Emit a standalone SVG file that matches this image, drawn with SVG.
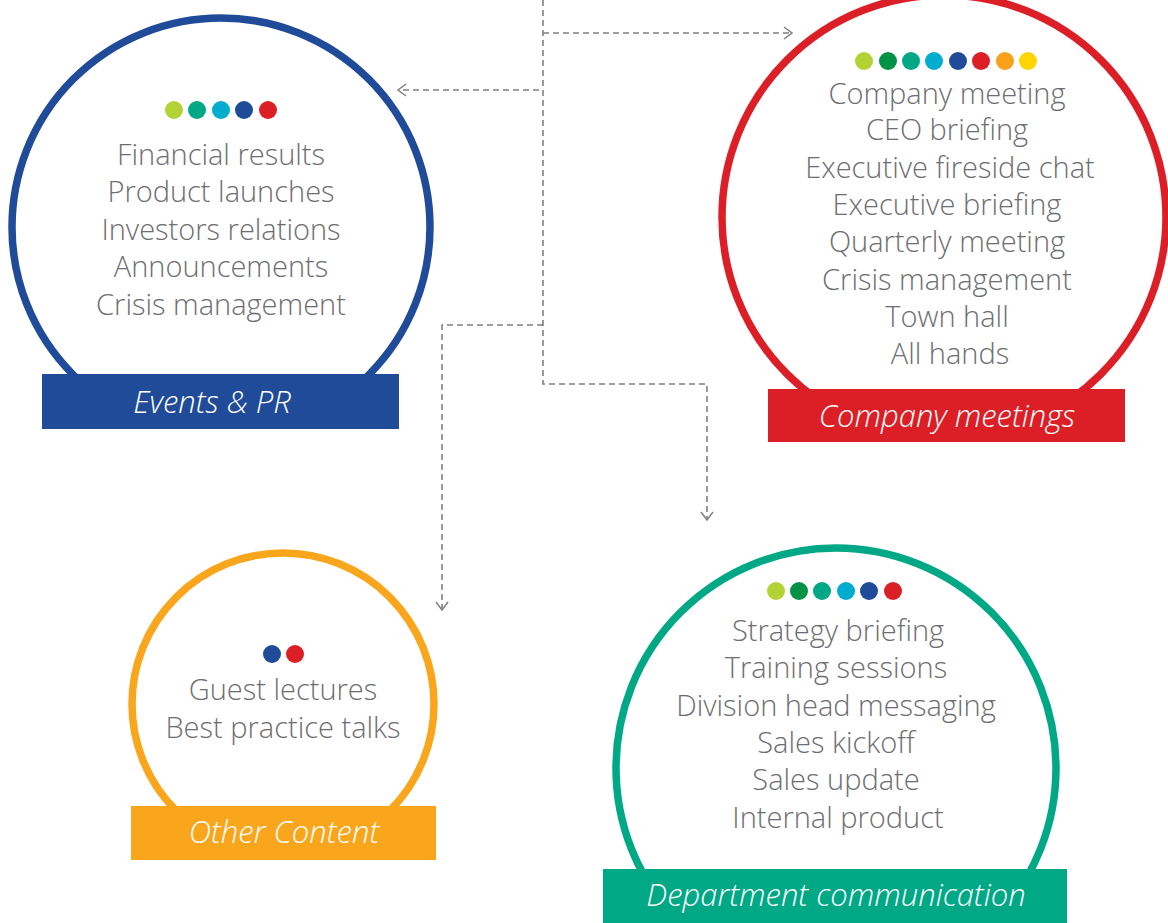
<svg xmlns="http://www.w3.org/2000/svg" width="1168" height="923" viewBox="0 0 1168 923">
<defs>
<marker id="arr" markerWidth="14" markerHeight="14" refX="11" refY="7" orient="auto" markerUnits="userSpaceOnUse">
<polyline points="3,1 11,7 3,13" fill="none" stroke="#808080" stroke-width="1.5"/>
</marker>
<clipPath id="cpBlue"><rect x="0" y="0" width="1168" height="380"/></clipPath>
<clipPath id="cpRed"><rect x="0" y="-20" width="1168" height="415"/></clipPath>
<clipPath id="cpGreen"><rect x="0" y="0" width="1168" height="875"/></clipPath>
<clipPath id="cpOrange"><rect x="0" y="0" width="1168" height="812"/></clipPath>
<style>
.conn{fill:none;stroke:#808080;stroke-width:1.6;stroke-dasharray:6 4}
.ring{fill:#fff;stroke-width:7.5}
.item{font-family:"Open Sans","Liberation Sans",sans-serif;font-weight:300;font-size:29px;fill:#6d6e71;text-anchor:middle}
.lbl{font-family:"Open Sans","Liberation Sans",sans-serif;font-weight:300;font-style:italic;font-size:31px;fill:#fff;text-anchor:middle}
.lime{fill:#b2d235}.green{fill:#009345}.teal{fill:#00a886}.cyan{fill:#00adce}.navy{fill:#1f4b99}.red{fill:#dc1f26}.orange{fill:#f9a11b}.yellow{fill:#ffd400}
</style>
</defs>
<g id="connectors">
<path class="conn" d="M543,0 V384 H707 V520" marker-end="url(#arr)"/>
<path class="conn" d="M543,33 H792" marker-end="url(#arr)"/>
<path class="conn" d="M539,90 H398" marker-end="url(#arr)"/>
<path class="conn" d="M543,325 H442 V610" marker-end="url(#arr)"/>
</g>
<g id="events-pr">
<circle class="ring" cx="221" cy="227" r="209" stroke="#1f4b99" clip-path="url(#cpBlue)"/>
<rect x="42" y="374" width="357" height="55" fill="#1f4b99"/>
<g><circle class="lime" cx="174" cy="110" r="9"/><circle class="teal" cx="197" cy="110" r="9"/><circle class="cyan" cx="221" cy="110" r="9"/><circle class="navy" cx="244" cy="110" r="9"/><circle class="red" cx="268" cy="110" r="9"/></g>
<text class="item" x="221" y="165">Financial results</text>
<text class="item" x="221" y="202">Product launches</text>
<text class="item" x="221" y="240">Investors relations</text>
<text class="item" x="221" y="277">Announcements</text>
<text class="item" x="221" y="315">Crisis management</text>
<text class="lbl" x="212" y="413">Events &amp; PR</text>
</g>
<g id="company-meetings">
<circle class="ring" cx="944" cy="217" r="222" stroke="#dc1f26" clip-path="url(#cpRed)"/>
<rect x="768" y="389" width="357" height="53" fill="#dc1f26"/>
<g><circle class="lime" cx="864" cy="61" r="9"/><circle class="green" cx="888" cy="61" r="9"/><circle class="teal" cx="911" cy="61" r="9"/><circle class="cyan" cx="934" cy="61" r="9"/><circle class="navy" cx="958" cy="61" r="9"/><circle class="red" cx="981" cy="61" r="9"/><circle class="orange" cx="1005" cy="61" r="9"/><circle class="yellow" cx="1028" cy="61" r="9"/></g>
<text class="item" x="947" y="104">Company meeting</text>
<text class="item" x="947" y="140">CEO briefing</text>
<text class="item" x="950" y="178">Executive fireside chat</text>
<text class="item" x="947" y="215">Executive briefing</text>
<text class="item" x="947" y="252">Quarterly meeting</text>
<text class="item" x="947" y="290">Crisis management</text>
<text class="item" x="947" y="327">Town hall</text>
<text class="item" x="950" y="364">All hands</text>
<text class="lbl" x="947" y="427">Company meetings</text>
</g>
<g id="department-communication">
<circle class="ring" cx="836" cy="768" r="220" stroke="#00a886" clip-path="url(#cpGreen)"/>
<rect x="603" y="869" width="464" height="54" fill="#00a886"/>
<g><circle class="lime" cx="776" cy="591" r="9"/><circle class="green" cx="799" cy="591" r="9"/><circle class="teal" cx="822" cy="591" r="9"/><circle class="cyan" cx="846" cy="591" r="9"/><circle class="navy" cx="869" cy="591" r="9"/><circle class="red" cx="893" cy="591" r="9"/></g>
<text class="item" x="838" y="641">Strategy briefing</text>
<text class="item" x="836" y="678">Training sessions</text>
<text class="item" x="836" y="716">Division head messaging</text>
<text class="item" x="836" y="753">Sales kickoff</text>
<text class="item" x="836" y="790">Sales update</text>
<text class="item" x="838" y="828">Internal product</text>
<text class="lbl" x="836" y="906">Department communication</text>
</g>
<g id="other-content">
<circle class="ring" cx="283" cy="704" r="151" stroke="#f9a61c" clip-path="url(#cpOrange)"/>
<rect x="131" y="806" width="305" height="54" fill="#f9a61c"/>
<g><circle class="navy" cx="272" cy="654" r="9"/><circle class="red" cx="295" cy="654" r="9"/></g>
<text class="item" x="283" y="700">Guest lectures</text>
<text class="item" x="283" y="738">Best practice talks</text>
<text class="lbl" x="284" y="843">Other Content</text>
</g>
</svg>
